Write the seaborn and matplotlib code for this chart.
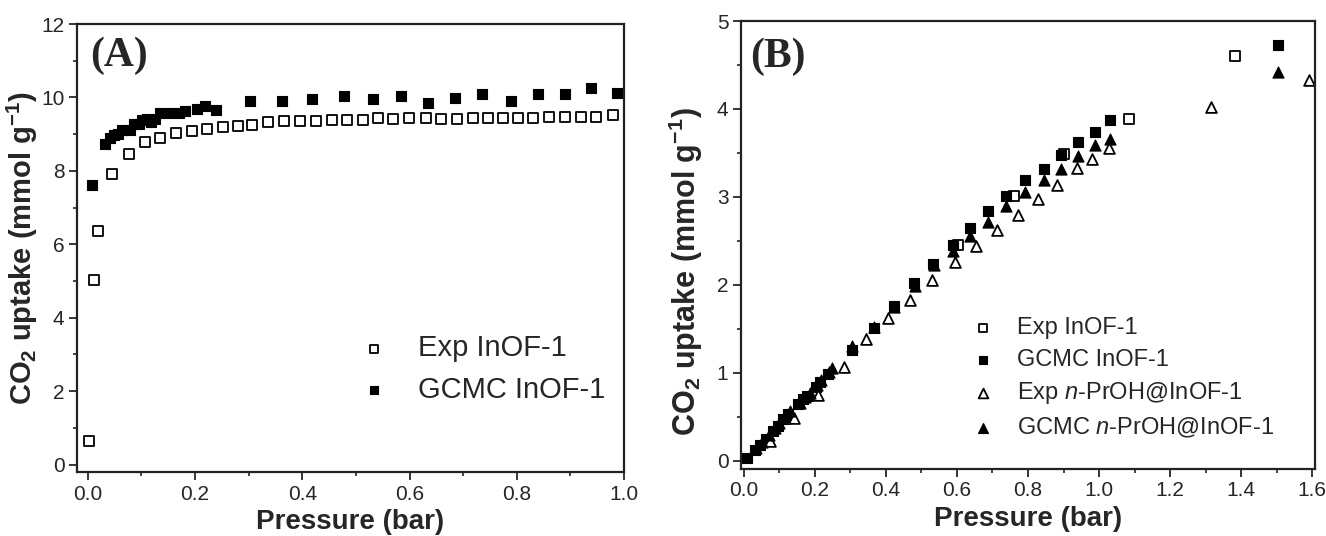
import numpy as np
import matplotlib
matplotlib.use('Agg')
import matplotlib.pyplot as plt
import seaborn as sns

# ---- panel A data ----
a_exp_p = [0.002, 0.012, 0.020, 0.046, 0.076, 0.106, 0.135, 0.165, 0.195, 0.223,
           0.252, 0.281, 0.307, 0.337, 0.366, 0.395, 0.426, 0.455, 0.484, 0.513,
           0.541, 0.570, 0.599, 0.630, 0.659, 0.689, 0.718, 0.747, 0.775, 0.803,
           0.830, 0.860, 0.890, 0.920, 0.948, 0.979]
a_exp_u = [0.65, 5.03, 6.35, 7.91, 8.46, 8.78, 8.90, 9.04, 9.10, 9.14,
           9.20, 9.23, 9.26, 9.34, 9.35, 9.35, 9.36, 9.38, 9.38, 9.38,
           9.43, 9.42, 9.43, 9.43, 9.41, 9.41, 9.43, 9.44, 9.44, 9.44,
           9.45, 9.46, 9.46, 9.48, 9.46, 9.51]
a_gcmc_p = [0.008, 0.033, 0.041, 0.049, 0.056, 0.063, 0.079, 0.086, 0.095, 0.102,
            0.110, 0.118, 0.126, 0.134, 0.156, 0.171, 0.182, 0.203, 0.219, 0.239,
            0.303, 0.363, 0.418, 0.477, 0.531, 0.584, 0.634, 0.685, 0.735, 0.789,
            0.840, 0.890, 0.938, 0.987]
a_gcmc_u = [7.61, 8.74, 8.90, 8.98, 9.00, 9.12, 9.11, 9.27, 9.29, 9.38,
            9.41, 9.33, 9.40, 9.59, 9.58, 9.58, 9.63, 9.68, 9.78, 9.66,
            9.89, 9.91, 9.95, 10.04, 9.95, 10.04, 9.85, 9.98, 10.10, 9.89,
            10.10, 10.10, 10.25, 10.12]

# ---- panel B data ----
b_exp_p = [0.602, 0.761, 0.900, 1.084, 1.382]
b_exp_u = [2.45, 3.01, 3.49, 3.89, 4.60]
b_gcmc_p = [0.008, 0.031, 0.045, 0.062, 0.082, 0.095, 0.110, 0.125, 0.153, 0.167,
            0.178, 0.202, 0.215, 0.238, 0.305, 0.367, 0.422, 0.480, 0.534, 0.589,
            0.638, 0.688, 0.738, 0.792, 0.845, 0.894, 0.942, 0.990, 1.030, 1.503]
b_gcmc_u = [0.03, 0.12, 0.18, 0.25, 0.34, 0.40, 0.47, 0.53, 0.64, 0.70,
            0.74, 0.84, 0.90, 0.99, 1.26, 1.51, 1.76, 2.02, 2.24, 2.45,
            2.65, 2.84, 3.01, 3.19, 3.32, 3.48, 3.62, 3.74, 3.87, 4.73]
b_pexp_p = [0.075, 0.142, 0.209, 0.281, 0.345, 0.407, 0.468, 0.530, 0.595, 0.653,
            0.712, 0.771, 0.827, 0.882, 0.939, 0.980, 1.027, 1.316, 1.592]
b_pexp_u = [0.22, 0.49, 0.75, 1.07, 1.38, 1.62, 1.83, 2.06, 2.26, 2.44,
            2.62, 2.79, 2.98, 3.13, 3.33, 3.43, 3.56, 4.02, 4.33]
b_pgcmc_p = [0.035, 0.052, 0.070, 0.088, 0.100, 0.115, 0.130, 0.157, 0.172, 0.185,
             0.205, 0.218, 0.240, 0.248, 0.305, 0.366, 0.422, 0.481, 0.535, 0.590,
             0.638, 0.688, 0.738, 0.792, 0.845, 0.894, 0.942, 0.990, 1.030, 1.503]
b_pgcmc_u = [0.14, 0.21, 0.29, 0.37, 0.43, 0.49, 0.56, 0.66, 0.72, 0.77,
             0.86, 0.92, 1.01, 1.05, 1.30, 1.52, 1.75, 1.99, 2.23, 2.38,
             2.55, 2.72, 2.90, 3.06, 3.19, 3.32, 3.46, 3.59, 3.66, 4.42]

sns.set_style('ticks')
plt.rcParams['font.family'] = ['Liberation Sans Narrow', 'Liberation Sans', 'DejaVu Sans']
plt.rcParams['mathtext.fontset'] = 'custom'
plt.rcParams['mathtext.rm'] = 'Liberation Sans:bold'
plt.rcParams['mathtext.bf'] = 'Liberation Sans:bold'
plt.rcParams['mathtext.it'] = 'Liberation Sans:italic'

fig = plt.figure(figsize=(13.26, 5.36), dpi=100)
axA = fig.add_axes([0.0581, 0.1194, 0.4125, 0.8358])
axB = fig.add_axes([0.5588, 0.1257, 0.4329, 0.8351])

sq_open = dict(marker='s', color='white', edgecolor='black', linewidth=1.3, s=42)
sq_fill = dict(marker='s', color='black', edgecolor='black', linewidth=0.8, s=46)
tri_open = dict(marker='^', color='white', edgecolor='black', linewidth=1.3, s=60)
tri_fill = dict(marker='^', color='black', edgecolor='black', linewidth=0.8, s=64)

sns.scatterplot(x=a_exp_p, y=a_exp_u, label='Exp InOF-1', ax=axA, **sq_open)
sns.scatterplot(x=a_gcmc_p, y=a_gcmc_u, label='GCMC InOF-1', ax=axA, **sq_fill)

sns.scatterplot(x=b_exp_p, y=b_exp_u, label='Exp InOF-1', ax=axB, **sq_open)
sns.scatterplot(x=b_gcmc_p, y=b_gcmc_u, label='GCMC InOF-1', ax=axB, **sq_fill)
sns.scatterplot(x=b_pexp_p, y=b_pexp_u, label='Exp $n$-PrOH@InOF-1', ax=axB, **tri_open)
sns.scatterplot(x=b_pgcmc_p, y=b_pgcmc_u, label='GCMC $n$-PrOH@InOF-1', ax=axB, **tri_fill)

ylab = r'CO$_\mathbf{2}$ uptake (mmol g$^\mathbf{-1}$)'
for ax in (axA, axB):
    for sp in ax.spines.values():
        sp.set_visible(True)
        sp.set_linewidth(1.6)
        sp.set_color('#222222')
    ax.tick_params(which='major', direction='out', length=5.5, width=1.3,
                   labelsize=15, top=False, right=False)
    ax.tick_params(which='minor', direction='out', length=3, width=1.2,
                   top=False, right=False)
    ax.set_xlabel('Pressure (bar)', fontsize=20, fontweight='bold',
                  family='Liberation Sans', labelpad=4)

axA.set_ylabel(ylab, fontsize=21, fontweight='bold', family='Liberation Sans')
axA.yaxis.set_label_coords(-0.068, 0.5)
axB.set_ylabel(ylab, fontsize=22, fontweight='bold', family='Liberation Sans')
axB.yaxis.set_label_coords(-0.062, 0.44)

axA.set_xlim(-0.02, 1.0)
axA.set_ylim(-0.2, 12)
axA.set_xticks(np.arange(0, 1.01, 0.2))
axA.set_xticks(np.arange(0.1, 1.0, 0.2), minor=True)
axA.set_yticks(np.arange(0, 13, 2))
axA.set_yticks(np.arange(1, 12, 2), minor=True)
axA.xaxis.set_major_formatter(matplotlib.ticker.FormatStrFormatter('%.1f'))

axB.set_xlim(-0.008, 1.608)
axB.set_ylim(-0.09, 5)
axB.set_xticks(np.arange(0, 1.61, 0.2))
axB.set_xticks(np.arange(0.1, 1.6, 0.2), minor=True)
axB.set_yticks(np.arange(0, 6, 1))
axB.set_yticks(np.arange(0.5, 5, 1), minor=True)
axB.xaxis.set_major_formatter(matplotlib.ticker.FormatStrFormatter('%.1f'))

axA.text(0.024, 0.971, '(A)', transform=axA.transAxes, fontsize=30, fontweight='bold',
         family='Liberation Serif', va='top', ha='left')
axB.text(0.016, 0.964, '(B)', transform=axB.transAxes, fontsize=30, fontweight='bold',
         family='Liberation Serif', va='top', ha='left')

axA.legend(loc='upper left', bbox_to_anchor=(0.522, 0.307), frameon=False, fontsize=21,
           handletextpad=1.1, handlelength=0.8, labelspacing=0.45, borderpad=0,
           borderaxespad=0, markerscale=0.9)
axB.legend(loc='upper left', bbox_to_anchor=(0.406, 0.338), frameon=False, fontsize=17,
           handletextpad=1.0, handlelength=0.8, labelspacing=0.4, borderpad=0,
           borderaxespad=0, markerscale=0.9)

fig.savefig('out.png', dpi=100)
